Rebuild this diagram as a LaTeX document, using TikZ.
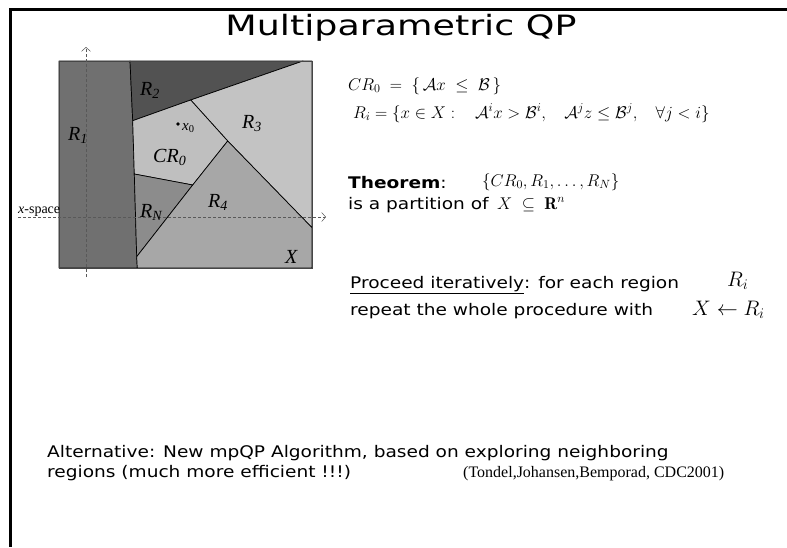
\RequirePackage{fix-cm}
\documentclass[tikz,border=0pt]{standalone}
\usepackage{amsmath}
\usepackage{fontspec}
\newfontfamily\comic[FakeStretch=1.16]{DejaVu Sans}
\newfontfamily\comicwide[FakeStretch=1.3]{DejaVu Sans}
\newfontfamily\tms{Liberation Serif}
\usepackage{tikz}
\usetikzlibrary{arrows.meta}
\definecolor{rone}{HTML}{707070}
\definecolor{rtwo}{HTML}{525252}
\definecolor{rthree}{HTML}{C3C3C3}
\definecolor{crzero}{HTML}{BFBFBF}
\definecolor{rlast}{HTML}{8C8C8C}
\definecolor{rfour}{HTML}{A7A7A7}
\tikzset{
  region/.style={draw=black, line width=0.7pt, line join=round},
  reglbl/.style={font=\tms\itshape\fontsize{20}{22}\selectfont, inner sep=0pt, anchor=base west},
  small/.style={font=\tms\fontsize{14}{16}\selectfont, inner sep=0pt, anchor=base west},
  txt/.style={font=\comic\fontsize{16}{19}\selectfont, inner sep=0pt, anchor=base west},
  mth/.style={font=\fontsize{17}{20}\selectfont, inner sep=0pt, anchor=base west},
  bigmth/.style={font=\fontsize{21}{24}\selectfont, inner sep=0pt, anchor=base west},
  axis/.style={dash pattern=on 3pt off 2pt, gray!70!black, line width=0.5pt,
               -{Straight Barb[length=4pt, width=9pt]}},
  frame/.style={line width=3pt, black}
}

\begin{document}
\begin{tikzpicture}[x=1pt, y=-1pt]
  \useasboundingbox (0,0) rectangle (787,547);
  % slide frame
  \draw[frame] (10,9.5) -- (787,9.5);
  \draw[frame] (10,8) -- (10,547);
  % corners of X
  \coordinate (nw) at (59,61);
  \coordinate (ne) at (312,61);
  \coordinate (se) at (312,268);
  \coordinate (sw) at (59,268);
  % vertices of the partition
  \coordinate (a) at (130,61);
  \coordinate (b) at (132.7,120.7);
  \coordinate (c) at (134.3,174);
  \coordinate (d) at (136.7,256.7);
  \coordinate (e) at (137.3,268);
  \coordinate (f) at (303,61);
  \coordinate (g) at (190.7,100);
  \coordinate (h) at (227.7,141);
  \coordinate (k) at (192.7,185);
  \coordinate (m) at (312,227.7);
  % regions
  \filldraw[region, fill=rone]   (nw) -- (a) -- (b) -- (c) -- (d) -- (e) -- (sw) -- cycle;
  \filldraw[region, fill=rtwo]   (a) -- (f) -- (g) -- (b) -- cycle;
  \filldraw[region, fill=rthree] (f) -- (ne) -- (m) -- (h) -- (g) -- cycle;
  \filldraw[region, fill=crzero] (b) -- (g) -- (h) -- (k) -- (c) -- cycle;
  \filldraw[region, fill=rlast]  (c) -- (k) -- (d) -- cycle;
  \filldraw[region, fill=rfour]  (k) -- (h) -- (m) -- (se) -- (e) -- (d) -- cycle;
  \draw[gray!55!black, line width=1pt] (nw) rectangle (se);
  % axes
  \coordinate (yb) at (86,277);
  \coordinate (yt) at (86,47);
  \coordinate (xl) at (18,217);
  \coordinate (xr) at (326,217);
  \draw[axis] (yb) -- (yt);
  \draw[axis] (xl) -- (xr);
  \node[small] (xsp) at (18,213) {\textit{x}-space};
  % region labels
  \node[reglbl] (lr1) at (68,140) {R\textsubscript{1}};
  \node[reglbl] (lr2) at (140,95) {R\textsubscript{2}};
  \node[reglbl] (lr3) at (242,128) {R\textsubscript{3}};
  \node[reglbl] (lcr) at (153,162) {CR\textsubscript{0}};
  \node[reglbl] (lrn) at (140,217) {R\textsubscript{N}};
  \node[reglbl] (lr4) at (208,207) {R\textsubscript{4}};
  \node[reglbl] (lx)  at (285,263) {X};
  \fill (178,124) circle (1.8pt);
  \node[small, font=\tms\itshape\fontsize{15}{17}\selectfont] (lx0) at (182,130) {x\textsubscript{\upshape 0}};
  % title
  \node[font=\comicwide\fontsize{28}{32}\selectfont, inner sep=0pt, anchor=base] (ttl) at (401,35) {Multiparametric QP};
  % definitions
  \node[mth] (cr0eq) at (348,90) {$CR_0\;=\;\{\,\mathcal{A}x\;\le\;\mathcal{B}\,\}$};
  \node[mth] (rieq) at (353,118) {$R_i=\{x\in X:\ \ \ \mathcal{A}^ix>\mathcal{B}^i,\ \ \ \mathcal{A}^jz\le\mathcal{B}^j,\ \ \ \forall j<i\}$};
  % theorem
  \node[txt] (thm) at (348,188) {{\bfseries Theorem}:};
  \node[mth] (part) at (482,186) {$\{CR_0,R_1,\ldots,R_N\}$};
  \node[txt] (isa) at (348,209) {is a partition of};
  \node[mth] (xsub) at (497,209) {$X\;\subseteq\;\mathbf{R}^n$};
  % iteration
  \node[txt] (proc) at (350,288) {\underline{Proceed iteratively}: for each region};
  \node[bigmth] (ri) at (727,286) {$R_i$};
  \node[txt] (rep) at (350,315) {repeat the whole procedure with};
  \node[bigmth] (xri) at (692,315) {$X\leftarrow R_i$};
  % alternative
  \node[txt] (alt1) at (47,457) {Alternative: New mpQP Algorithm, based on exploring neighboring};
  \node[txt] (alt2) at (47,477) {regions (much more efficient !!!)};
  \node[small, font=\tms\fontsize{16}{18}\selectfont] (ref) at (463,477) {(Tondel,Johansen,Bemporad, CDC2001)};
\end{tikzpicture}
\end{document}
